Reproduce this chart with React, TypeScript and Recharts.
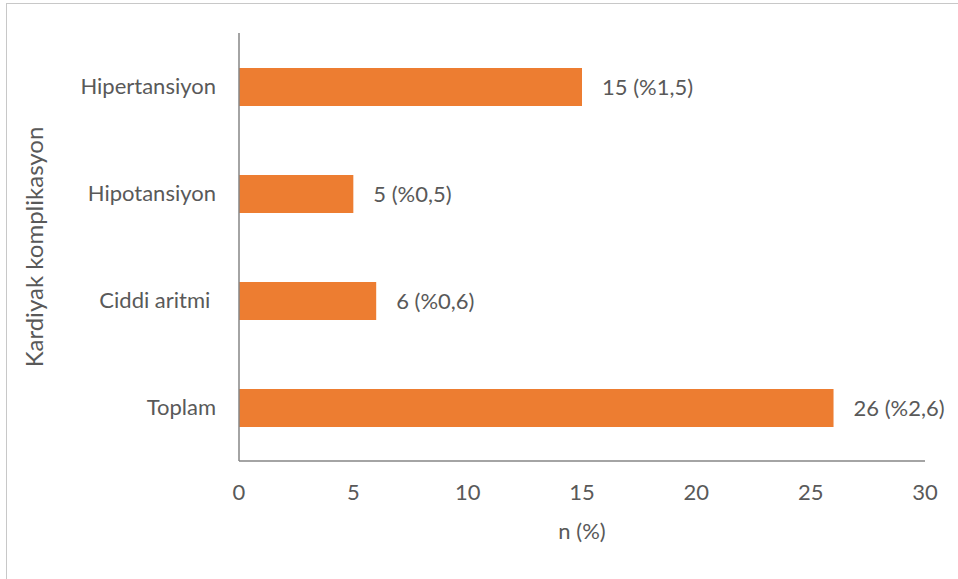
import React from 'react';
import { BarChart, Bar, XAxis, YAxis, LabelList, Label } from 'recharts';

const categories = ['Hipertansiyon', 'Hipotansiyon', 'Ciddi aritmi\u00A0', 'Toplam'];
const counts = [15, 5, 6, 26];
const percents = ['%1,5', '%0,5', '%0,6', '%2,6'];
const xTicks = [0, 5, 10, 15, 20, 25, 30];

const data = categories.map((name, i) => ({
  name,
  value: counts[i],
  label: `${counts[i]} (${percents[i]})`,
}));

const FONT = 'Lato, "Open Sans", sans-serif';
const TEXT = '#595959';
const AXIS = '#868686';

export default function App() {
  return (
    <div
      style={{
        position: 'absolute',
        left: 0,
        top: 0,
        width: 958,
        height: 579,
        overflow: 'hidden',
        background: '#fff',
        fontFamily: FONT,
      }}
    >
      {/* chart frame */}
      <div
        style={{
          position: 'absolute',
          left: 6,
          top: 3,
          width: 980,
          height: 600,
          border: '1px solid #c8c8c8',
          boxSizing: 'border-box',
        }}
      />
      <div style={{ position: 'absolute', left: 0, top: 0 }}>
        <BarChart
          width={958}
          height={579}
          data={data}
          layout="vertical"
          margin={{ top: 33, right: 33, bottom: 0, left: 0 }}
        >
          <XAxis
            type="number"
            domain={[0, 30]}
            ticks={xTicks}
            interval={0}
            height={118}
            axisLine={{ stroke: AXIS, strokeWidth: 1.5 }}
            tickLine={false}
            tickSize={0}
            tickMargin={23}
            tick={{ fill: TEXT, fontSize: 22, fontFamily: FONT }}
          >
            <Label
              value="n (%)"
              position="insideBottom"
              offset={40}
              style={{ fill: TEXT, fontSize: 22, fontFamily: FONT }}
            />
          </XAxis>
          <YAxis
            type="category"
            dataKey="name"
            width={239}
            axisLine={{ stroke: AXIS, strokeWidth: 1.5 }}
            tickLine={false}
            tickSize={0}
            tickMargin={23}
            tick={{ fill: TEXT, fontSize: 22, fontFamily: FONT }}
          >
            <Label
              value="Kardiyak komplikasyon"
              angle={-90}
              position="insideLeft"
              offset={34}
              style={{ fill: TEXT, fontSize: 24, fontFamily: FONT, textAnchor: 'middle' }}
            />
          </YAxis>
          <Bar dataKey="value" fill="#ED7D31" barSize={38} isAnimationActive={false}>
            <LabelList
              dataKey="label"
              position="right"
              offset={20}
              style={{ fill: TEXT, fontSize: 22, fontFamily: FONT }}
            />
          </Bar>
        </BarChart>
      </div>
    </div>
  );
}
